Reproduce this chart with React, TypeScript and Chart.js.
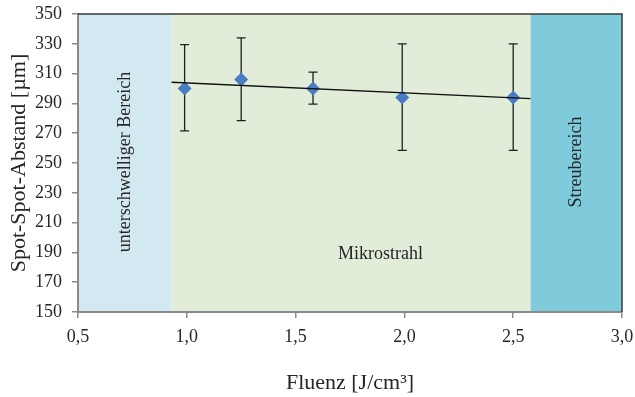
import React, { useEffect, useRef } from "react";
import { Chart, registerables } from "chart.js";

Chart.register(...registerables);

// ---- data ----
const fluence = [0.99, 1.25, 1.58, 1.99, 2.5];
const spotDistance = [300, 306, 300, 294, 294];
const errLow = [271.5, 278.5, 289.5, 258.5, 258.5];
const errHigh = [329.5, 334, 311, 330, 330];
const trendX = [0.93, 2.58];
const trendY = [304.2, 293.2];
const regionBounds = [0.5, 0.93, 2.58, 3.0];
const regionLabels = ["unterschwelliger Bereich", "Mikrostrahl", "Streubereich"];
const xTickValues = [0.5, 1.0, 1.5, 2.0, 2.5, 3.0];
const yTickValues = [150, 170, 190, 210, 230, 250, 270, 290, 310, 330, 350];

const FONT = "'Liberation Serif', 'Times New Roman', serif";
const TEXT = "#262626";
const regionColors = ["#d2e9f2", "#e2edd9", "#7fcadb"];

const backgroundPlugin = {
  id: "regions",
  beforeDraw(chart: any) {
    const { ctx, chartArea, scales } = chart;
    const x = scales.x;
    ctx.save();
    for (let i = 0; i < regionBounds.length - 1; i++) {
      const x0 = x.getPixelForValue(regionBounds[i]);
      const x1 = x.getPixelForValue(regionBounds[i + 1]);
      ctx.fillStyle = regionColors[i];
      ctx.fillRect(x0, chartArea.top, x1 - x0, chartArea.bottom - chartArea.top);
    }
    ctx.restore();
  },
  beforeDatasetsDraw(chart: any) {
    const { ctx, chartArea, scales } = chart;
    const x = scales.x;
    const y = scales.y;
    ctx.save();
    ctx.fillStyle = TEXT;
    ctx.font = `18px ${FONT}`;
    ctx.textAlign = "center";
    ctx.textBaseline = "middle";
    const midY = (chartArea.top + chartArea.bottom) / 2 - 1;
    // vertical labels
    [0, 2].forEach((i) => {
      const cx = (x.getPixelForValue(regionBounds[i]) + x.getPixelForValue(regionBounds[i + 1])) / 2;
      ctx.save();
      ctx.translate(cx, midY);
      ctx.rotate(-Math.PI / 2);
      ctx.fillText(regionLabels[i], 0, 0);
      ctx.restore();
    });
    ctx.fillText(regionLabels[1], x.getPixelForValue(1.89), y.getPixelForValue(189));

    // error bars
    ctx.strokeStyle = "#1f1f1f";
    ctx.lineWidth = 1.3;
    for (let i = 0; i < fluence.length; i++) {
      const px = x.getPixelForValue(fluence[i]);
      const pt = y.getPixelForValue(errHigh[i]);
      const pb = y.getPixelForValue(errLow[i]);
      ctx.beginPath();
      ctx.moveTo(px, pt);
      ctx.lineTo(px, pb);
      ctx.moveTo(px - 4.5, pt);
      ctx.lineTo(px + 4.5, pt);
      ctx.moveTo(px - 4.5, pb);
      ctx.lineTo(px + 4.5, pb);
      ctx.stroke();
    }
    ctx.restore();
  },
  afterDraw(chart: any) {
    const { ctx, chartArea } = chart;
    ctx.save();
    ctx.strokeStyle = "#3a3a3a";
    ctx.lineWidth = 1.5;
    ctx.beginPath();
    ctx.moveTo(chartArea.left, chartArea.top);
    ctx.lineTo(chartArea.right, chartArea.top);
    ctx.lineTo(chartArea.right, chartArea.bottom);
    ctx.stroke();
    // axis titles
    ctx.fillStyle = TEXT;
    ctx.font = `22px ${FONT}`;
    ctx.textAlign = "center";
    ctx.textBaseline = "middle";
    ctx.fillText("Fluenz [J/cm³]", (chartArea.left + chartArea.right) / 2, 383);
    ctx.translate(19, (chartArea.top + chartArea.bottom) / 2);
    ctx.rotate(-Math.PI / 2);
    ctx.fillText("Spot-Spot-Abstand [µm]", 0, 0);
    ctx.restore();
  },
};

export default function App() {
  const ref = useRef<HTMLCanvasElement | null>(null);
  useEffect(() => {
    if (!ref.current) return;
    const chart = new Chart(ref.current, {
      type: "scatter",
      data: {
        datasets: [
          {
            type: "line",
            data: trendX.map((v, i) => ({ x: v, y: trendY[i] })),
            borderColor: "#111",
            borderWidth: 1.3,
            pointRadius: 0,
            fill: false,
          } as any,
          {
            data: fluence.map((v, i) => ({ x: v, y: spotDistance[i] })),
            pointStyle: "rectRot",
            pointRadius: 7,
            backgroundColor: "#4a7cc3",
            borderColor: "#4a7cc3",
            borderWidth: 0,
          },
        ],
      },
      options: {
        animation: false,
        responsive: false,
        layout: { padding: { top: 14, right: 13, left: 0, bottom: 0 } },
        plugins: { legend: { display: false }, tooltip: { enabled: false } },
        scales: {
          x: {
            type: "linear",
            min: 0.5,
            max: 3.0,
            afterBuildTicks: (s: any) => {
              s.ticks = xTickValues.map((v) => ({ value: v }));
            },
            afterFit: (s: any) => {
              s.height = 85;
              s.paddingLeft = 0;
              s.paddingRight = 0;
              s.paddingTop = 0;
              s.paddingBottom = 0;
            },
            grid: { drawOnChartArea: false, drawTicks: true, tickLength: 6, color: "#8a8a8a", lineWidth: 1.5 },
            border: { display: true, color: "#8a8a8a", width: 2 },
            ticks: {
              padding: 8,
              color: TEXT,
              font: { family: FONT, size: 18 },
              callback: (v: any) => Number(v).toFixed(1).replace(".", ","),
            },
          },
          y: {
            type: "linear",
            min: 150,
            max: 350,
            afterBuildTicks: (s: any) => {
              s.ticks = yTickValues.map((v) => ({ value: v }));
            },
            afterFit: (s: any) => {
              s.width = 78;
              s.paddingLeft = 0;
              s.paddingRight = 0;
              s.paddingTop = 0;
              s.paddingBottom = 0;
            },
            grid: { drawOnChartArea: false, drawTicks: true, tickLength: 6, color: "#8a8a8a", lineWidth: 1.5 },
            border: { display: true, color: "#8a8a8a", width: 2 },
            ticks: {
              padding: 10,
              color: TEXT,
              font: { family: FONT, size: 18 },
            },
          },
        },
      },
      plugins: [backgroundPlugin],
    });
    return () => chart.destroy();
  }, []);
  return (
    <div style={{ position: "absolute", left: 0, top: 0, width: 635, height: 397, background: "#fff" }}>
      <canvas ref={ref} width={635} height={397} />
    </div>
  );
}
